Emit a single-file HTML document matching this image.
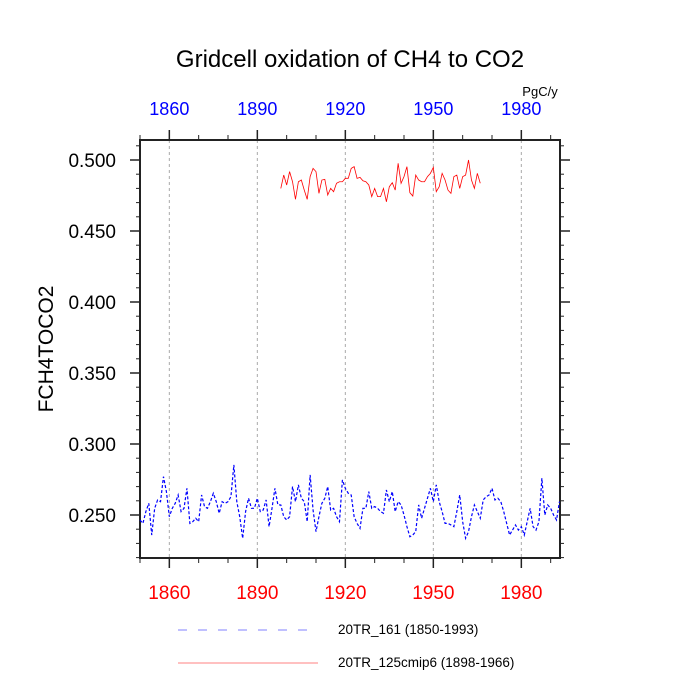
<!DOCTYPE html>
<html><head><meta charset="utf-8"><style>
html,body{margin:0;padding:0;background:#fff;}
svg{display:block;font-family:"Liberation Sans",sans-serif;}
</style></head><body>
<svg id="chart" width="700" height="700" viewBox="0 0 700 700">
<text x="350" y="67" text-anchor="middle" font-size="24">Gridcell oxidation of CH4 to CO2</text>
<text x="540" y="96" text-anchor="middle" font-size="13">PgC/y</text>
<text transform="translate(53,349) rotate(-90)" text-anchor="middle" font-size="21">FCH4TOCO2</text>
<g id="grid"></g>
<g id="axes"></g>
<g id="series"></g>
<g>
<line x1="178" y1="630" x2="318" y2="630" stroke="#8080ff" stroke-width="1" stroke-dasharray="9,11"/>
<text x="338" y="634" font-size="13.5">20TR_161 (1850-1993)</text>
<line x1="178" y1="663" x2="318" y2="663" stroke="#ff8080" stroke-width="1"/>
<text x="338" y="667" font-size="13.5">20TR_125cmip6 (1898-1966)</text>
</g>
</svg>
<script>
const blueStart = 1850;
const blueValues = [0.2465,0.2441,0.2524,0.2582,0.2359,0.2547,0.2606,0.2594,0.2770,0.2665,
0.2488,0.2547,0.2582,0.2641,0.2524,0.2547,0.2688,0.2441,0.2453,0.2477,
0.2453,0.2641,0.2559,0.2547,0.2594,0.2653,0.2594,0.2512,0.2594,0.2582,
0.2594,0.2629,0.2853,0.2594,0.2488,0.2336,0.2524,0.2618,0.2547,0.2547,
0.2618,0.2524,0.2535,0.2606,0.2418,0.2547,0.2688,0.2571,0.2571,0.2488,
0.2465,0.2488,0.2700,0.2594,0.2712,0.2618,0.2594,0.2453,0.2782,0.2535,
0.2383,0.2488,0.2582,0.2618,0.2700,0.2535,0.2547,0.2488,0.2453,0.2747,
0.2688,0.2653,0.2641,0.2488,0.2441,0.2406,0.2547,0.2547,0.2665,0.2547,
0.2559,0.2547,0.2524,0.2512,0.2676,0.2594,0.2665,0.2524,0.2594,0.2571,
0.2500,0.2418,0.2347,0.2359,0.2383,0.2571,0.2477,0.2547,0.2618,0.2688,
0.2594,0.2712,0.2594,0.2524,0.2441,0.2441,0.2430,0.2418,0.2524,0.2641,
0.2453,0.2336,0.2383,0.2488,0.2571,0.2524,0.2477,0.2606,0.2629,0.2641,
0.2688,0.2606,0.2618,0.2594,0.2524,0.2441,0.2359,0.2394,0.2430,0.2394,
0.2418,0.2359,0.2453,0.2547,0.2418,0.2394,0.2453,0.2759,0.2500,0.2571,
0.2547,0.2500,0.2465,0.2594];
const redStart = 1898;
const redValues = [0.4800,0.4894,0.4824,0.4918,0.4847,0.4723,0.4847,0.4859,0.4788,0.4723,
0.4883,0.4941,0.4918,0.4765,0.4859,0.4864,0.4753,0.4800,0.4777,0.4836,
0.4847,0.4847,0.4871,0.4871,0.4941,0.4953,0.4871,0.4878,0.4854,0.4847,
0.4824,0.4742,0.4800,0.4742,0.4742,0.4800,0.4706,0.4812,0.4840,0.4788,
0.4977,0.4836,0.4883,0.4953,0.4770,0.4746,0.4894,0.4859,0.4847,0.4847,
0.4883,0.4906,0.4948,0.4777,0.4812,0.4906,0.4859,0.4788,0.4765,0.4883,
0.4894,0.4800,0.4883,0.4894,0.5000,0.4859,0.4800,0.4906,0.4836];
const xTicks = [1860,1890,1920,1950,1980];
const xMinor = [1850,1870,1880,1900,1910,1930,1940,1960,1970,1990];
const yTicks = [0.250,0.300,0.350,0.400,0.450,0.500];
const yTickLabels = ["0.250","0.300","0.350","0.400","0.450","0.500"];

const L=140,R=560,T=140,B=558;
const x0=1850, xPer=88/30;
const X = yr => L + (yr - x0)*xPer;
const Y = v => 515 - (v - 0.25)*1420;
const NS='http://www.w3.org/2000/svg';
function mk(tag, attrs, parent){const e=document.createElementNS(NS,tag);for(const k in attrs)e.setAttribute(k,attrs[k]);parent.appendChild(e);return e;}
const grid=document.getElementById('grid'), axes=document.getElementById('axes'), series=document.getElementById('series');

xTicks.forEach(t=>{
  const gl=mk('line',{x1:X(t),x2:X(t),y1:T,y2:B,stroke:'#aaa','stroke-width':1,'stroke-dasharray':'3,3'},grid);
  
  
  const tb=mk('line',{x1:X(t),x2:X(t),y1:B,y2:B+10,stroke:'#222','stroke-width':1.5},axes);
  
  
  const tt=mk('line',{x1:X(t),x2:X(t),y1:T,y2:T-10,stroke:'#222','stroke-width':1.5},axes);
  
  
  const lb=mk('text',{x:X(t),y:599,'text-anchor':'middle','font-size':19,fill:'#ff0000'},axes);
  lb.textContent=t;
  
  
  const lt=mk('text',{x:X(t),y:115,'text-anchor':'middle','font-size':18,fill:'#0000ff'},axes);
  lt.textContent=t;
  
  
});
xMinor.forEach(t=>{
  if(X(t)<L||X(t)>R)return;
  const a=mk('line',{x1:X(t),x2:X(t),y1:B,y2:B+5,stroke:'#222','stroke-width':1},axes);
  
  
  const b=mk('line',{x1:X(t),x2:X(t),y1:T,y2:T-5,stroke:'#222','stroke-width':1},axes);
  
  
});
for(let v=0.22; v<=0.514; v+=0.01){
  const yy=Y(v); if(yy<T||yy>B) continue;
  const a=mk('line',{x1:L-4,x2:L,y1:yy,y2:yy,stroke:'#222','stroke-width':1},axes);
  
  
  const b=mk('line',{x1:R,x2:R+4,y1:yy,y2:yy,stroke:'#222','stroke-width':1},axes);
  
  
}
yTicks.forEach((v,i)=>{
  const a=mk('line',{x1:L-10,x2:L,y1:Y(v),y2:Y(v),stroke:'#222','stroke-width':1.5},axes);
  
  
  const b=mk('line',{x1:R,x2:R+10,y1:Y(v),y2:Y(v),stroke:'#222','stroke-width':1.5},axes);
  
  
  const lb=mk('text',{x:116,y:Y(v)+7,'text-anchor':'end','font-size':19},axes);
  lb.textContent=yTickLabels[i];
  
  
});
const fr=mk('rect',{x:L,y:T,width:R-L,height:B-T,fill:'none',stroke:'#222','stroke-width':2},axes);



const bp=blueValues.map((v,i)=>X(blueStart+i).toFixed(2)+','+Y(v).toFixed(2)).join(' ');
const bl=mk('polyline',{points:bp,fill:'none',stroke:'#0000ff','stroke-width':1.2,'stroke-dasharray':'3,2'},series);


const rp=redValues.map((v,i)=>X(redStart+i).toFixed(2)+','+Y(v).toFixed(2)).join(' ');
const rl=mk('polyline',{points:rp,fill:'none',stroke:'#ff0000','stroke-width':0.8},series);


</script>
</body></html>
